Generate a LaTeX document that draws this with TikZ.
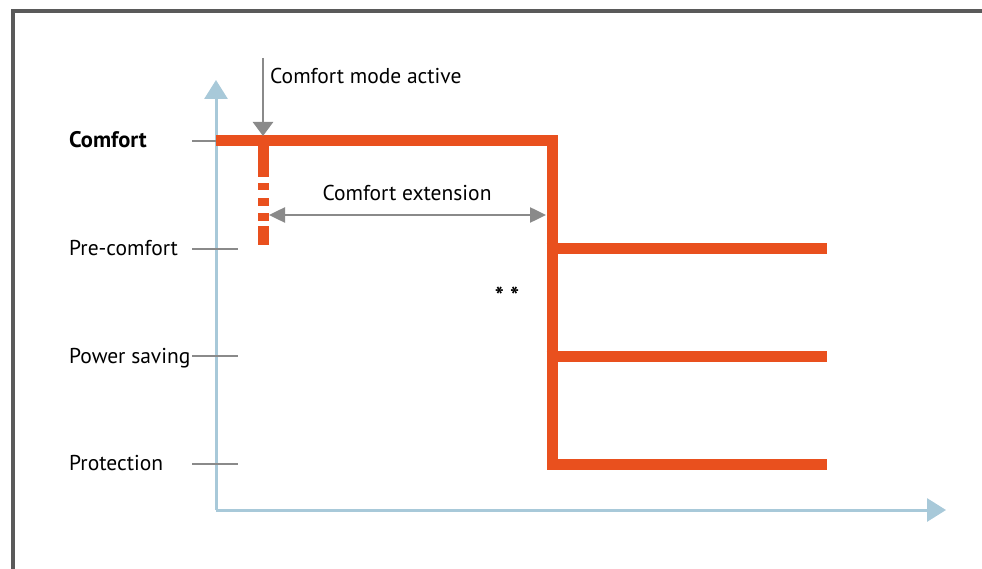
\documentclass[tikz,border=0pt]{standalone}
\usepackage{fontspec}
\setmainfont{PT Sans}
\usetikzlibrary{arrows.meta}
\definecolor{framegray}{HTML}{5A5A5A}
\definecolor{axisblue}{HTML}{A8C9D9}
\definecolor{tickgray}{HTML}{8A8A8A}
\definecolor{orangeline}{HTML}{E9501E}
\tikzset{
  framestyle/.style={draw=framegray,line width=4pt},
  axisline/.style={draw=axisblue,line width=3pt,-{Triangle[length=19pt,width=23pt]}},
  tickline/.style={draw=tickgray,line width=2.5pt},
  stateline/.style={draw=orangeline,line width=11pt,line join=miter},
  grayarrow/.style={draw=tickgray,line width=2.5pt},
  lbl/.style={font=\fontsize{21.5}{24}\selectfont,inner sep=0pt,text=black},
}
\begin{document}
\begin{tikzpicture}[x=1pt,y=-1pt]
\useasboundingbox (0,0) rectangle (982,569);
\fill[white] (0,0) rectangle (982,569);
% frame
\draw[framestyle] (13,569) -- (13,11) -- (982,11);
% axes
\coordinate (origin) at (216,510);
\coordinate (ytip) at (216,80);
\coordinate (xtip) at (946,510);
\draw[axisline] (origin) -- (ytip);
\draw[axisline] (origin) -- (xtip);
% level labels
\node[lbl,anchor=base west,font=\fontsize{22.5}{24}\selectfont\bfseries] (lcomfort) at (69,148) {Comfort};
\node[lbl,anchor=base west] (lpre) at (69,255) {Pre-comfort};
\node[lbl,anchor=base west] (lpower) at (69,363) {Power saving};
\node[lbl,anchor=base west] (lprot) at (69,470) {Protection};
% ticks
\foreach \n/\y in {a/141,b/249,c/356,d/464}{
  \coordinate (t\n l) at (192,\y);
  \coordinate (t\n r) at (238,\y);
  \draw[tickline] (t\n l) -- (t\n r);
}
% orange state line
\coordinate (s0) at (216,141);
\coordinate (s1) at (552,141);
\coordinate (s2) at (552,464);
\coordinate (e3) at (827,464);
\coordinate (j1) at (546.5,249);
\coordinate (e1) at (827,249);
\coordinate (j2) at (546.5,356);
\coordinate (e2) at (827,356);
\draw[stateline] (s0) -- (s1) -- (s2) -- (e3);
\draw[stateline] (j1) -- (e1);
\draw[stateline] (j2) -- (e2);
% dashed extension bar
\foreach \a/\b in {141/177,183/190,198/206,213/221,226/245}{
  \fill[orangeline] (257.5,\a) rectangle (268.5,\b);
}
% comfort mode active arrow
\node[lbl,anchor=base west] (cma) at (270,84) {Comfort mode active};
\coordinate (cmtop) at (263,58);
\coordinate (cmtip) at (263,136);
\draw[grayarrow,-{Triangle[length=14pt,width=20pt]}] (cmtop) -- (cmtip);
% comfort extension arrow
\coordinate (ceL) at (269,215);
\coordinate (ceR) at (546,215);
\draw[grayarrow,{Triangle[length=16pt,width=15pt]}-{Triangle[length=16pt,width=15pt]}] (ceL) -- (ceR);
\node[lbl,anchor=base] (cext) at (407,201) {Comfort extension};
% stars
\node[lbl,anchor=center,font=\fontsize{24}{24}\selectfont\bfseries] (stars) at (507,296) {* *};
\end{tikzpicture}
\end{document}
